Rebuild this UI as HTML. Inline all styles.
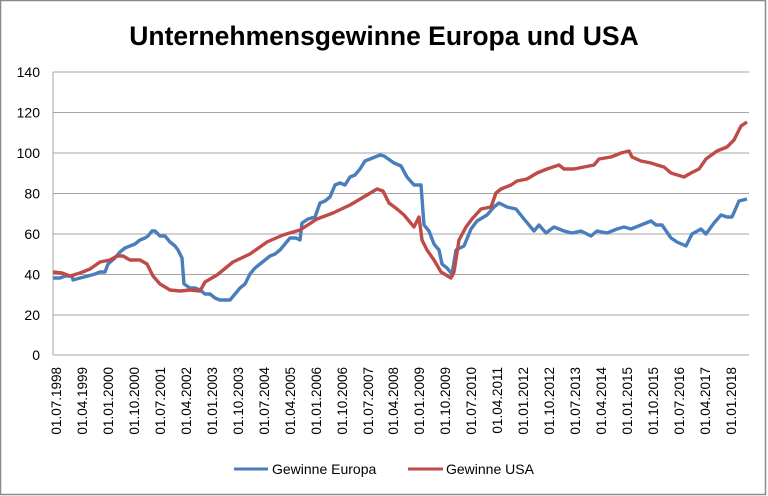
<!DOCTYPE html>
<html><head><meta charset="utf-8"><style>
body{margin:0;background:#fff;}
svg{display:block;font-family:"Liberation Sans",sans-serif;}
</style></head><body>
<svg width="768" height="496" viewBox="0 0 768 496">
<rect x="0.5" y="0.5" width="765" height="494" fill="#fff" stroke="#8a8a8a" stroke-width="1.5"/>
<text x="384" y="45" text-anchor="middle" font-size="26.5" font-weight="bold" fill="#000">Unternehmensgewinne Europa und USA</text>
<g stroke="#a6a6a6" stroke-width="1">
<line x1="53" y1="72" x2="749" y2="72"/><line x1="53" y1="112.5" x2="749" y2="112.5"/>
<line x1="53" y1="153" x2="749" y2="153"/><line x1="53" y1="193.5" x2="749" y2="193.5"/>
<line x1="53" y1="234" x2="749" y2="234"/><line x1="53" y1="274.5" x2="749" y2="274.5"/>
<line x1="53" y1="315" x2="749" y2="315"/><line x1="53" y1="355" x2="749" y2="355"/>
<line x1="53" y1="72" x2="53" y2="355"/>
</g>
<g font-size="14" fill="#000" text-anchor="end">
<text x="40" y="77">140</text><text x="40" y="117.5">120</text><text x="40" y="158">100</text>
<text x="40" y="198.5">80</text><text x="40" y="239">60</text><text x="40" y="279.5">40</text>
<text x="40" y="320">20</text><text x="40" y="360">0</text>
</g>
<polyline fill="none" stroke="#4a7ebb" stroke-width="3.4" stroke-linejoin="round" points="53,278 60,278 65,276 72,276 73,280 80,278 88,276 95,274 100,272 105,272 108,264 115,258 120,252 125,248 130,246 135,244 140,240 145,238 148,236 152,231 155,231 160,236 165,236 170,242 175,246 178,250 182,258 184,284 190,288 195,288 200,290 205,294 210,294 215,298 220,300 225,300 230,300 235,294 240,288 245,284 250,274 255,268 260,264 265,260 270,256 275,254 280,250 285,244 290,238 296,238 300,240 302,223 308,219 315,217 320,203 325,201 330,197 335,185 340,183 345,185 350,177 355,175 360,169 365,161 370,159 375,157 380,155 384,156 394,163 401,166 407,177 414,185 421,185 424,225 429,231 434,244 439,250 442,264 447,268 452,274 456,250 464,246 471,229 477,221 487,215 494,207 499,203 507,207 516,209 524,219 534,231 539,225 546,233 554,227 564,231 572,233 581,231 591,236 597,231 607,233 617,229 624,227 631,229 641,225 651,221 656,225 662,225 671,238 677,242 686,246 692,234 701,229 706,234 714,223 721,215 727,217 732,217 739,201 747,199"/>
<polyline fill="none" stroke="#be4b48" stroke-width="3.4" stroke-linejoin="round" points="53,272 62,273 70,276 80,273 90,269 100,262 110,260 117,256 123,256 130,260 140,260 147,264 153,276 160,284 170,290 180,291 190,290 200,291 205,282 217,275 233,262 250,254 267,242 283,235 300,230 317,219 333,213 350,205 367,195 377,189 383,191 389,203 397,209 404,215 414,227 419,217 422,240 427,250 434,260 441,272 451,278 454,272 459,240 466,227 472,219 481,209 491,207 496,193 501,189 511,185 517,181 527,179 537,173 547,169 559,165 564,169 574,169 584,167 594,165 599,159 611,157 621,153 629,151 632,157 641,161 651,163 657,165 664,167 671,173 684,177 691,173 699,169 706,159 717,151 727,147 734,140 741,126 747,122"/>
<line x1="234" y1="469" x2="268" y2="469" stroke="#4a7ebb" stroke-width="3"/>
<text x="272" y="474" font-size="14">Gewinne Europa</text>
<line x1="408" y1="469" x2="443" y2="469" stroke="#be4b48" stroke-width="3"/>
<text x="446" y="474" font-size="14">Gewinne USA</text>
<g font-size="13.5" fill="#000" text-anchor="end">
<text transform="translate(61,367) rotate(-90)">01.07.1998</text>
<text transform="translate(87,367) rotate(-90)">01.04.1999</text>
<text transform="translate(113,367) rotate(-90)">01.01.2000</text>
<text transform="translate(139,367) rotate(-90)">01.10.2000</text>
<text transform="translate(165,367) rotate(-90)">01.07.2001</text>
<text transform="translate(191,367) rotate(-90)">01.04.2002</text>
<text transform="translate(217,367) rotate(-90)">01.01.2003</text>
<text transform="translate(243,367) rotate(-90)">01.10.2003</text>
<text transform="translate(269,367) rotate(-90)">01.07.2004</text>
<text transform="translate(295,367) rotate(-90)">01.04.2005</text>
<text transform="translate(321,367) rotate(-90)">01.01.2006</text>
<text transform="translate(347,367) rotate(-90)">01.10.2006</text>
<text transform="translate(373,367) rotate(-90)">01.07.2007</text>
<text transform="translate(398,367) rotate(-90)">01.04.2008</text>
<text transform="translate(424,367) rotate(-90)">01.01.2009</text>
<text transform="translate(450,367) rotate(-90)">01.10.2009</text>
<text transform="translate(476,367) rotate(-90)">01.07.2010</text>
<text transform="translate(502,367) rotate(-90)">01.04.2011</text>
<text transform="translate(528,367) rotate(-90)">01.01.2012</text>
<text transform="translate(554,367) rotate(-90)">01.10.2012</text>
<text transform="translate(580,367) rotate(-90)">01.07.2013</text>
<text transform="translate(606,367) rotate(-90)">01.04.2014</text>
<text transform="translate(632,367) rotate(-90)">01.01.2015</text>
<text transform="translate(658,367) rotate(-90)">01.10.2015</text>
<text transform="translate(684,367) rotate(-90)">01.07.2016</text>
<text transform="translate(710,367) rotate(-90)">01.04.2017</text>
<text transform="translate(736,367) rotate(-90)">01.01.2018</text>
</g>
</svg>
</body></html>
